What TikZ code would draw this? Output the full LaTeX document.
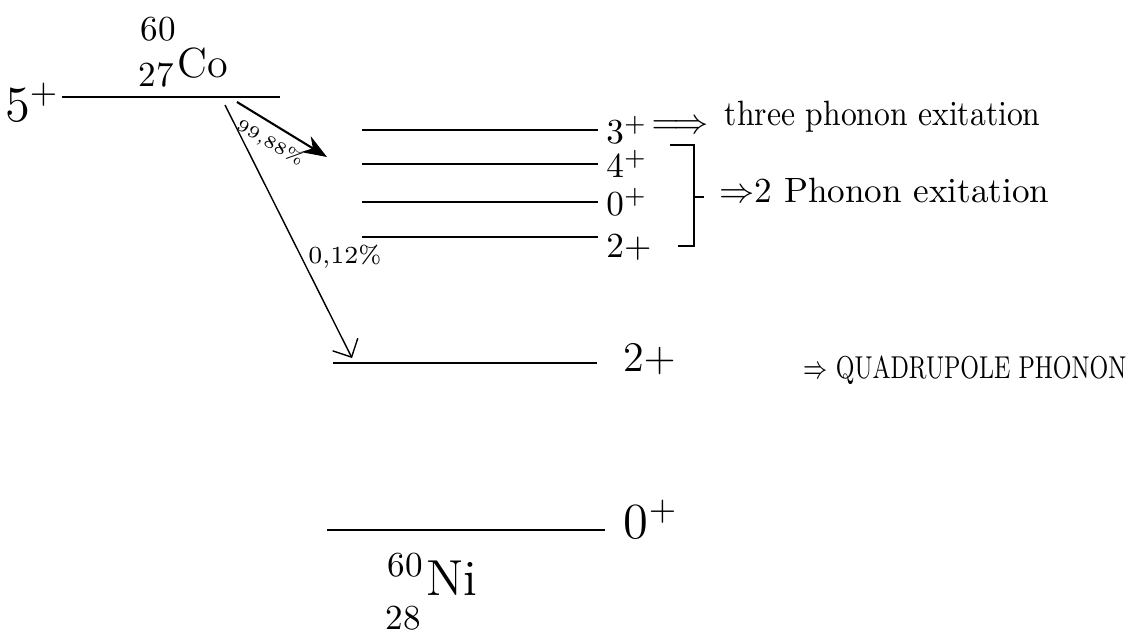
\documentclass[tikz,border=0pt]{standalone}
\usetikzlibrary{arrows.meta}
\tikzset{level/.style={thick}, lab/.style={anchor=west, inner sep=2pt}}
\begin{document}
\begin{tikzpicture}
\useasboundingbox (0,0) rectangle (11.38,-6.32);
\coordinate (co-l) at (0.62,-0.97);
\coordinate (co-r) at (2.80,-0.97);
\draw[level] (co-l) -- (co-r);
\node (spin-co) at (0.32,-1.02) {\Large $5^+$};
\node (co-a) at (1.58,-0.29) {60};
\node (co-z) at (1.56,-0.75) {27};
\node (co) at (2.03,-0.63) {\large Co};
\coordinate (l3a) at (3.62,-1.30); \coordinate (l3b) at (5.98,-1.30);
\coordinate (l4a) at (3.62,-1.64); \coordinate (l4b) at (5.98,-1.64);
\coordinate (l0a) at (3.62,-2.02); \coordinate (l0b) at (5.98,-2.02);
\coordinate (l2a) at (3.62,-2.37); \coordinate (l2b) at (5.98,-2.37);
\coordinate (q2a) at (3.33,-3.63); \coordinate (q2b) at (5.97,-3.63);
\coordinate (g0a) at (3.27,-5.30); \coordinate (g0b) at (6.05,-5.30);
\draw[level] (l3a) -- (l3b) node[lab] (s3) {$3^+$};
\draw[level] (l4a) -- (l4b) node[lab] (s4) {$4^+$};
\draw[level] (l0a) -- (l0b) node[lab] (s0) {$0^+$};
\draw[level] (l2a) -- (l2b) node[lab, yshift=-3pt] (s2) {$2+$};
\draw[level] (q2a) -- (q2b) node[lab, xshift=5pt, yshift=1pt] (sq) {\large $2+$};
\draw[level] (g0a) -- (g0b) node[lab, xshift=3pt, yshift=3pt] (sg) {\Large $0^+$};
\node (ni-a) at (4.05,-5.65) {60};
\node (ni-z) at (4.03,-6.18) {28};
\node (ni) at (4.52,-5.78) {\Large Ni};
\coordinate (b1) at (2.37,-1.02); \coordinate (e1) at (3.27,-1.57);
\coordinate (b2) at (2.25,-1.05); \coordinate (e2) at (3.52,-3.58);
\draw[semithick, -{Stealth[length=7pt]}] (b1) -- (e1);
\draw[-{Straight Barb[length=4pt]}] (b2) -- (e2);
\node[rotate=-30, font=\tiny] (p1) at (2.70,-1.43) {99,88\%};
\node[font=\scriptsize] (p2) at (3.45,-2.57) {0,12\%};
\coordinate (br1) at (6.70,-1.45); \coordinate (br2) at (6.94,-1.45);
\coordinate (br3) at (6.94,-2.46); \coordinate (br4) at (6.78,-2.46);
\coordinate (brm) at (6.94,-1.97); \coordinate (brt) at (7.04,-1.97);
\draw[thick] (br1) -- (br2) -- (br3) -- (br4);
\draw[thick] (brm) -- (brt);
\node (arr3) at (6.80,-1.27) {$\Longrightarrow$};
\node[lab, xscale=0.9] (t3) at (7.18,-1.17) {three phonon exitation};
\node[lab] (t2) at (7.12,-1.90) {$\Rightarrow$2 Phonon exitation};
\node[lab, xscale=0.74] (tq) at (7.98,-3.70) {\small $\Rightarrow$ QUADRUPOLE PHONON};
\end{tikzpicture}
\end{document}
